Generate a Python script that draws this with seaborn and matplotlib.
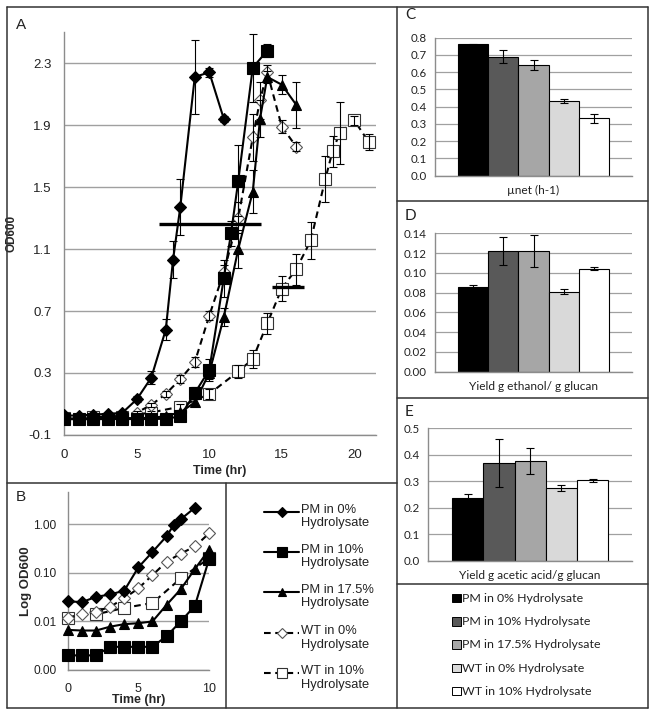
import matplotlib
matplotlib.use("Agg")
import matplotlib.pyplot as plt
import pandas as pd
import seaborn as sns
from matplotlib.lines import Line2D
from matplotlib.patches import Rectangle

# ---------------- Panel A data: OD600 vs time (hr) ----------------
pm0_t = [0, 1, 2, 3, 4, 5, 6, 7, 7.5, 8, 9, 10, 11]
pm0_od = [0.026, 0.025, 0.032, 0.036, 0.043, 0.13, 0.27, 0.58, 1.03, 1.37, 2.21, 2.24, 1.94]
pm0_err = [0.005, 0.005, 0.005, 0.005, 0.01, 0.02, 0.04, 0.07, 0.12, 0.18, 0.24, 0.03, 0.02]

pm10_t = [0, 1, 2, 3, 4, 5, 6, 7, 8, 9, 10, 11, 11.5, 12, 13, 14]
pm10_od = [0.002, 0.002, 0.002, 0.003, 0.003, 0.003, 0.003, 0.005, 0.02, 0.17, 0.32, 0.91, 1.20, 1.54, 2.27, 2.38]
pm10_err = [0.003, 0.003, 0.003, 0.003, 0.003, 0.003, 0.003, 0.003, 0.02, 0.04, 0.07, 0.12, 0.08, 0.23, 0.22, 0.04]

pm175_t = [0, 1, 2, 3, 4, 5, 6, 7, 8, 9, 10, 11, 12, 13, 13.5, 14, 15, 16]
pm175_od = [0.007, 0.007, 0.007, 0.008, 0.009, 0.009, 0.010, 0.022, 0.046, 0.11, 0.30, 0.66, 1.10, 1.47, 1.94, 2.21, 2.16, 2.03]
pm175_err = [0.003, 0.003, 0.003, 0.003, 0.003, 0.003, 0.003, 0.005, 0.01, 0.02, 0.04, 0.06, 0.12, 0.14, 0.12, 0.04, 0.06, 0.15]

wt0_t = [0, 1, 2, 3, 4, 5, 6, 7, 8, 9, 10, 11, 12, 13, 13.5, 14, 15, 16]
wt0_od = [0.012, 0.014, 0.016, 0.020, 0.030, 0.045, 0.094, 0.165, 0.26, 0.37, 0.67, 0.95, 1.30, 1.82, 2.06, 2.24, 1.89, 1.76]
wt0_err = [0.003, 0.003, 0.003, 0.003, 0.003, 0.01, 0.015, 0.02, 0.025, 0.03, 0.03, 0.05, 0.10, 0.15, 0.12, 0.05, 0.04, 0.03]

wt10_t = [0, 2, 4, 6, 8, 10, 12, 13, 14, 15, 16, 17, 18, 18.5, 19, 20, 21]
wt10_od = [0.012, 0.014, 0.019, 0.045, 0.083, 0.165, 0.31, 0.39, 0.62, 0.845, 0.97, 1.155, 1.55, 1.73, 1.85, 1.93, 1.79]
wt10_err = [0.003, 0.003, 0.003, 0.01, 0.02, 0.03, 0.04, 0.06, 0.07, 0.08, 0.10, 0.12, 0.15, 0.10, 0.20, 0.03, 0.05]

# half-max reference bars in panel A
halfmax_od = [1.26, 0.855]
halfmax_start = [6.5, 14.3]
halfmax_end = [13.6, 16.5]

# ---------------- Panel B data: log OD600, first 10 h ----------------
b_pm0_t = [0, 1, 2, 3, 4, 5, 6, 7, 7.5, 8, 9]
b_pm0_od = [0.026, 0.025, 0.032, 0.036, 0.043, 0.13, 0.27, 0.57, 0.97, 1.27, 2.2]
b_pm10_t = [0, 1, 2, 3, 4, 5, 6, 7, 8, 9, 10]
b_pm10_od = [0.002, 0.002, 0.002, 0.003, 0.003, 0.003, 0.003, 0.005, 0.010, 0.021, 0.19]
b_pm175_t = [0, 1, 2, 3, 4, 5, 6, 7, 8, 9, 10]
b_pm175_od = [0.0067, 0.0065, 0.0065, 0.0078, 0.0088, 0.0092, 0.010, 0.022, 0.046, 0.12, 0.30]
b_wt0_t = [0, 1, 2, 3, 4, 5, 6, 7, 8, 9, 10]
b_wt0_od = [0.012, 0.014, 0.016, 0.020, 0.030, 0.048, 0.09, 0.17, 0.25, 0.35, 0.65]
b_wt10_t = [0, 2, 4, 6, 8, 10]
b_wt10_od = [0.012, 0.014, 0.019, 0.024, 0.077, 0.20]

# ---------------- Bar panels C, D, E ----------------
strains = ["PM in 0% Hydrolysate", "PM in 10% Hydrolysate", "PM in 17.5% Hydrolysate",
           "WT in 0% Hydrolysate", "WT in 10% Hydrolysate"]
bar_colors = ["#000000", "#595959", "#a6a6a6", "#d9d9d9", "#ffffff"]

mu_label = "µnet (h-1)"
mu_vals = [0.762, 0.689, 0.643, 0.435, 0.333]
mu_err = [0.004, 0.037, 0.030, 0.012, 0.025]

eth_label = "Yield g ethanol/ g glucan"
eth_vals = [0.086, 0.122, 0.122, 0.081, 0.104]
eth_err = [0.002, 0.0145, 0.0165, 0.0022, 0.0015]

ace_label = "Yield g acetic acid/g glucan"
ace_vals = [0.238, 0.369, 0.377, 0.274, 0.303]
ace_err = [0.014, 0.089, 0.049, 0.011, 0.006]

line_labels = ["PM in 0%\nHydrolysate", "PM in 10%\nHydrolysate", "PM in 17.5%\nHydrolysate",
               "WT in 0%\nHydrolysate", "WT in 10%\nHydrolysate"]

# ---------------- styling ----------------
sns.set_theme(style="white")
plt.rcParams["font.family"] = ["Liberation Sans", "DejaVu Sans"]
BARFONT = ["Lato", "DejaVu Sans"]
GRID = "#a0a0a0"
AXC = "#8c8c8c"

W, H = 653, 716
fig = plt.figure(figsize=(W / 100, H / 100), dpi=100)
fig.patch.set_facecolor("white")


def ax_px(x0, y0, x1, y1):
    return fig.add_axes([x0 / W, 1 - y1 / H, (x1 - x0) / W, (y1 - y0) / H])


styles = [
    dict(marker="D", ms=6.5, fc="black", ec="black", mew=0.8, ls="-"),
    dict(marker="s", ms=8.8, fc="black", ec="black", mew=0.8, ls="-"),
    dict(marker="^", ms=7.8, fc="black", ec="black", mew=0.8, ls="-"),
    dict(marker="D", ms=6.5, fc="white", ec="#555555", mew=0.8, ls=(0, (3.2, 2.2))),
    dict(marker="s", ms=8.8, fc="white", ec="#333333", mew=0.8, ls=(0, (3.2, 2.2))),
]


def draw_series(ax, t, od, st, err=None, z=2):
    sns.lineplot(x=t, y=od, ax=ax, color="black", lw=1.5, linestyle=st["ls"],
                 marker=st["marker"], markersize=st["ms"], markerfacecolor=st["fc"],
                 markeredgecolor=st["ec"], markeredgewidth=st["mew"],
                 errorbar=None, legend=False, sort=False, zorder=z)
    if err is not None:
        ax.errorbar(t, od, yerr=err, fmt="none", ecolor="black", elinewidth=0.8,
                    capsize=2.6, capthick=0.8, zorder=z + 0.5)


def style_axes(ax):
    for s in ["top", "right"]:
        ax.spines[s].set_visible(False)
    for s in ["left", "bottom"]:
        ax.spines[s].set_color(AXC)
        ax.spines[s].set_linewidth(1.0)
    ax.tick_params(axis="both", which="major", direction="out", length=4, width=0.8,
                   color=AXC, labelcolor="#222222")
    ax.tick_params(axis="both", which="minor", length=0)
    ax.set_facecolor("white")


# ---------------- Panel A ----------------
axA = ax_px(64.3, 32, 376, 435)
style_axes(axA)
axA.set_xlim(0, 21.5)
axA.set_ylim(-0.1, 2.5)
axA.set_yticks([-0.1, 0.3, 0.7, 1.1, 1.5, 1.9, 2.3])
axA.set_yticklabels(["-0.1", "0.3", "0.7", "1.1", "1.5", "1.9", "2.3"])
axA.set_xticks([0, 5, 10, 15, 20])
axA.yaxis.grid(True, color=GRID, lw=1.0)
axA.set_axisbelow(True)
axA.tick_params(axis="both", labelsize=9.5, pad=6)
axA.tick_params(axis="y", length=0, pad=9)

a_sets = [(wt10_t, wt10_od, wt10_err, 4), (wt0_t, wt0_od, wt0_err, 3),
          (pm175_t, pm175_od, pm175_err, 2), (pm10_t, pm10_od, pm10_err, 1),
          (pm0_t, pm0_od, pm0_err, 0)]
for i, (t, od, er, si) in enumerate(a_sets):
    draw_series(axA, t, od, styles[si], er, z=2 + i)
axA.hlines(halfmax_od, halfmax_start, halfmax_end, colors="black", lw=2.4, zorder=10)
axA.set_xlabel("Time (hr)", fontsize=9, fontweight="bold", labelpad=3)
axA.set_ylabel("OD600", fontsize=8.5, fontweight="bold", labelpad=8)

# ---------------- Panel B ----------------
axB = ax_px(67.7, 491.7, 209, 670)
style_axes(axB)
axB.set_yscale("log")
axB.set_ylim(0.001, 4.7)
axB.set_xlim(0, 10)
axB.set_yticks([0.001, 0.01, 0.1, 1.0])
axB.set_yticklabels(["0.00", "0.01", "0.10", "1.00"])
axB.set_xticks([0, 5, 10])
axB.yaxis.grid(True, color=GRID, lw=1.0, which="major")
axB.set_axisbelow(True)
axB.tick_params(axis="both", labelsize=9)
axB.tick_params(axis="y", length=0, pad=8, labelsize=8.6)
axB.tick_params(axis="x", pad=5)
b_sets = [(b_wt10_t, b_wt10_od, 4), (b_wt0_t, b_wt0_od, 3), (b_pm175_t, b_pm175_od, 2),
          (b_pm10_t, b_pm10_od, 1), (b_pm0_t, b_pm0_od, 0)]
for i, (t, od, si) in enumerate(b_sets):
    draw_series(axB, t, od, styles[si], None, z=2 + i)
for ln in axB.lines:
    ln.set_clip_on(False)
axB.set_xlabel("Time (hr)", fontsize=9, fontweight="bold", labelpad=0)
axB.set_ylabel("Log OD600", fontsize=9.5, fontweight="bold", labelpad=1)

# ---------------- line legend (manual, in its box) ----------------
axL = ax_px(226, 483, 397, 708)
axL.set_xlim(226, 397)
axL.set_ylim(708, 483)
axL.axis("off")
leg_y = [511.7, 551.7, 591.7, 633.3, 673.3]
leg_ms = [5.0, 7.2, 6.4, 5.0, 7.0]
for i, (lab, st) in enumerate(zip(line_labels, styles)):
    y = leg_y[i]
    axL.add_line(Line2D([264, 299], [y, y], color="black", lw=1.5, linestyle=st["ls"]))
    axL.add_line(Line2D([281.5], [y], marker=st["marker"], markersize=leg_ms[i],
                        markerfacecolor=st["fc"], markeredgecolor=st["ec"],
                        markeredgewidth=0.8, linestyle="none"))
    axL.text(301, y - 8, lab, fontsize=9.3, va="top", ha="left", color="#222222",
             linespacing=1.18)

# ---------------- Bar panels ----------------
def bar_panel(box, label, vals, errs, ymax, step, fmt):
    ax = ax_px(*box)
    df = pd.DataFrame({"metric": [label] * len(strains), "strain": strains, "value": vals})
    sns.barplot(data=df, x="metric", y="value", hue="strain", hue_order=strains,
                palette=bar_colors, edgecolor="black", linewidth=0.8, width=0.768,
                errorbar=None, legend=False, ax=ax, saturation=1)
    for p, e in zip(ax.patches, errs):
        ax.errorbar(p.get_x() + p.get_width() / 2, p.get_height(), yerr=e, fmt="none",
                    ecolor="black", elinewidth=0.8, capsize=2.6, capthick=0.8, zorder=5)
    style_axes(ax)
    ax.set_xlim(-0.5, 0.5)
    ax.set_ylim(0, ymax)
    n = int(round(ymax / step))
    ticks = [k * step for k in range(n + 1)]
    ax.set_yticks(ticks)
    ax.set_yticklabels([fmt % v for v in ticks], fontfamily=BARFONT, fontsize=8.3)
    ax.yaxis.grid(True, color=GRID, lw=0.9)
    ax.set_axisbelow(True)
    ax.set_xticks([-0.5, 0.5])
    ax.set_xticklabels(["", ""])
    ax.tick_params(axis="y", length=4, pad=2)
    ax.tick_params(axis="x", length=4, pad=0)
    ax.set_xlabel(label, fontfamily=BARFONT, fontsize=8.6, labelpad=3, color="#222222")
    ax.set_ylabel("")
    return ax


bar_panel((435, 37.7, 632, 175.7), mu_label, mu_vals, mu_err, 0.8, 0.1, "%.1f")
bar_panel((435, 233.3, 632, 371.7), eth_label, eth_vals, eth_err, 0.14, 0.02, "%.2f")
bar_panel((428.3, 428.3, 632, 560.7), ace_label, ace_vals, ace_err, 0.5, 0.1, "%.1f")

# bar legend (manual, in its box)
axBL = ax_px(397, 584, 648, 708)
axBL.set_xlim(397, 648)
axBL.set_ylim(708, 584)
axBL.axis("off")
bl_y = [598.3, 621.8, 645.0, 668.3, 691.3]
for y, lab, c in zip(bl_y, strains, bar_colors):
    axBL.add_patch(Rectangle((452, y - 4.5), 8.5, 8.5, facecolor=c, edgecolor="black", lw=0.7))
    axBL.text(461.5, y, lab, fontsize=8.9, fontfamily=BARFONT, va="center", ha="left",
              color="#222222")

# ---------------- panel letters ----------------
fig.text(16 / W, 1 - 25 / H, "A", fontsize=11, va="center", ha="left", color="#222222")
fig.text(16 / W, 1 - 497 / H, "B", fontsize=11, va="center", ha="left", color="#222222")
fig.text(405 / W, 1 - 15 / H, "C", fontsize=11, va="center", ha="left", color="#222222",
         fontfamily=BARFONT)
fig.text(405 / W, 1 - 216 / H, "D", fontsize=11, va="center", ha="left", color="#222222",
         fontfamily=BARFONT)
fig.text(405 / W, 1 - 412 / H, "E", fontsize=11, va="center", ha="left", color="#222222",
         fontfamily=BARFONT)

# ---------------- panel frames ----------------
frame_segments = [
    ((7, 7), (648, 7)), ((7, 708), (648, 708)), ((7, 7), (7, 708)), ((648, 7), (648, 708)),
    ((397, 7), (397, 708)), ((7, 483), (397, 483)), ((226, 483), (226, 708)),
    ((397, 201), (648, 201)), ((397, 398), (648, 398)), ((397, 584), (648, 584)),
]
for (x0, y0), (x1, y1) in frame_segments:
    fig.add_artist(Line2D([x0 / W, x1 / W], [1 - y0 / H, 1 - y1 / H], color="#333333",
                          lw=1.1, transform=fig.transFigure))

fig.savefig("out.png", dpi=100, facecolor="white")
